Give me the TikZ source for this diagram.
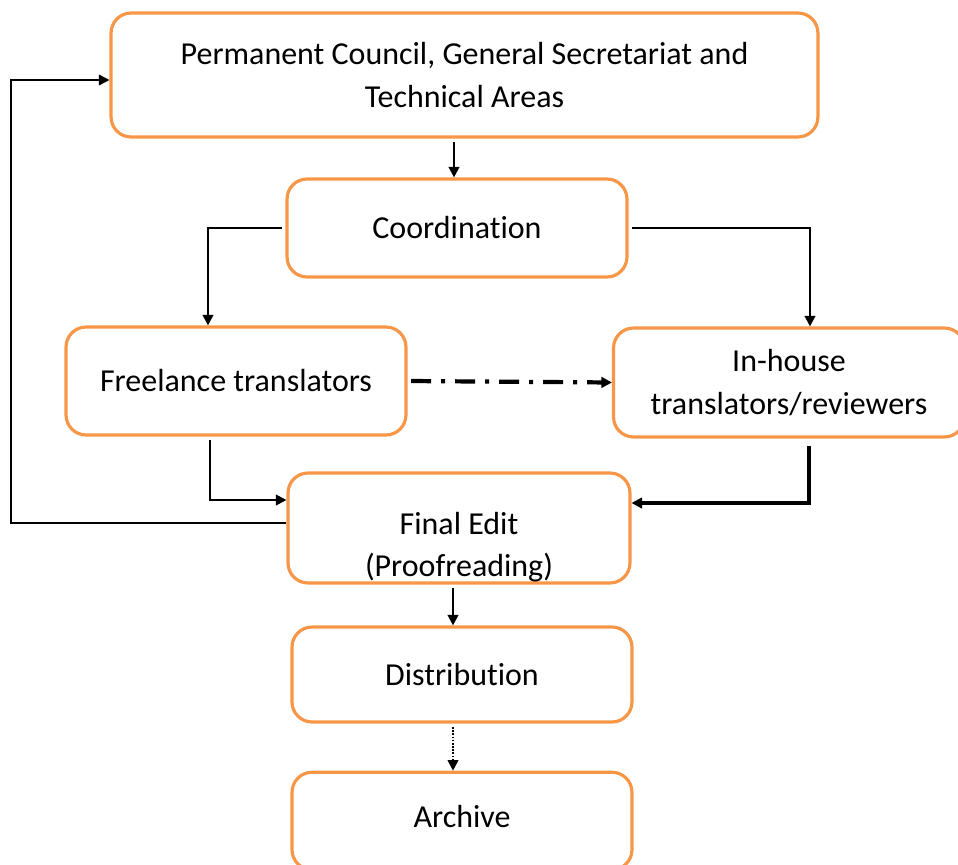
\documentclass[tikz,border=0pt]{standalone}
\usepackage{fontspec}
\setmainfont[Ligatures=NoCommon]{Carlito}
\usetikzlibrary{arrows.meta}

\definecolor{boxorange}{HTML}{F79646}

\begin{document}
\begin{tikzpicture}[x=0.02cm,y=-0.02cm,>={Triangle[length=6pt,width=6pt]},
        box/.style={rectangle, draw=boxorange, fill=white, line width=1.8pt,
        rounded corners=0.4cm, align=center, inner sep=0pt,
        font=\fontsize{18.2}{24}\selectfont},
        link/.style={->, line width=1.3pt, shorten <=2pt}
        ]
        \useasboundingbox (0,0) rectangle (958,865);

        \node [box, minimum width=14.14cm, minimum height=2.48cm] (perm) at (464.5,75)
                {Permanent Council, General Secretariat and\\Technical Areas};
        \node [box, minimum width=6.8cm, minimum height=1.96cm] (coord) at (457,228) {Coordination};
        \node [box, minimum width=6.8cm, minimum height=2.16cm] (free) at (236,381) {Freelance translators};
        \node [box, minimum width=7.02cm, minimum height=2.18cm] (inhouse) at (789,382.5)
                {In-house\\translators/reviewers};
        \node [box, minimum width=6.84cm, minimum height=2.2cm] (edit) at (459,528) {};
        \node [font=\fontsize{18.2}{24}\selectfont, align=center] (edittext) at (459,547)
                {Final Edit\\(Proofreading)};
        \node [box, minimum width=6.8cm, minimum height=1.9cm] (dist) at (462,674.5) {Distribution};
        \node [box, minimum width=6.8cm, minimum height=1.95cm] (arch) at (462,821) {};
        \node [font=\fontsize{18.2}{24}\selectfont] (archtext) at (462,817) {Archive};

        \coordinate (back) at (11,80);

        % top of the chain
        \draw [link] ([xshift=-0.06cm]perm.south -| coord.north) -- ([xshift=-0.06cm]coord.north);
        \draw [link] (coord.west) -| ([xshift=-0.56cm]free.north);
        \draw [link] (coord.east) -| ([xshift=0.42cm]inhouse.north);
        \draw [->, line width=2.4pt, dash pattern=on 0.4cm off 0.2cm on 0.08cm off 0.2cm, shorten <=2pt]
                (free.east) -- (inhouse.west);

        % into the final edit
        \draw [link] ([xshift=-0.52cm]free.south) |- ([yshift=0.56cm]edit.west);
        \draw [->, line width=2.2pt, shorten <=4pt] ([xshift=0.4cm]inhouse.south) |- ([yshift=0.5cm]edit.east);
        \draw [->, line width=0.9pt] ([yshift=0.1cm]edit.west) -| (back) -- (back -| perm.west);

        % bottom of the chain
        \draw [link] ([xshift=-0.12cm]edit.south) -- ([xshift=-0.12cm]edit.south |- dist.north);
        \draw [->, line width=1.1pt, dash pattern=on 1pt off 0.8pt, shorten <=2pt]
                ([xshift=-0.18cm]dist.south) -- ([xshift=-0.18cm]dist.south |- arch.north);
\end{tikzpicture}
\end{document}
